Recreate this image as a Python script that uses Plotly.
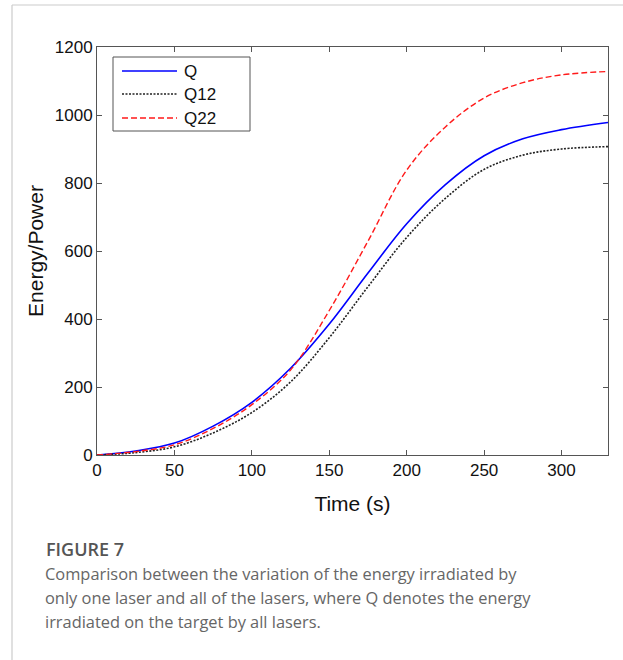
import plotly.graph_objects as go

time_s = [0, 25, 50, 75, 100, 125, 150, 175, 200, 225, 250, 275, 300, 330]
q_all = [0, 12, 35, 85, 155, 255, 385, 535, 680, 795, 880, 930, 957, 978]
q12 = [0, 7, 24, 65, 125, 215, 345, 495, 640, 755, 840, 882, 900, 907]
q22 = [0, 10, 30, 78, 148, 250, 425, 629, 838, 965, 1050, 1095, 1118, 1128]

series_names = ["Q", "Q12", "Q22"]
x_ticks = [0, 50, 100, 150, 200, 250, 300]
y_ticks = [0, 200, 400, 600, 800, 1000, 1200]

caption_title = "FIGURE 7"
caption_lines = [
    "Comparison between the variation of the energy irradiated by",
    "only one laser and all of the lasers, where Q denotes the energy",
    "irradiated on the target by all lasers.",
]

styles = [
    dict(color="#0000ff", width=1.6, dash="solid"),
    dict(color="#222222", width=1.6, dash="2px,1.5px"),
    dict(color="#ff1a1a", width=1.4, dash="6px,3px"),
]

fig = go.Figure()
for name, vals, st in zip(series_names, [q_all, q12, q22], styles):
    fig.add_trace(go.Scatter(x=time_s, y=vals, name=name, mode="lines",
                             showlegend=False, hoverinfo="skip",
                             line=dict(color=st["color"], width=st["width"],
                                       dash=st["dash"], shape="spline")))

L, R, T, B = 97, 15, 47, 205
W, H = 623, 660
pw, ph = W - L - R, H - T - B

def px(xp):
    return (xp - L) / pw

def py(yp):
    return (H - B - yp) / ph

FONT = "Liberation Sans, Arial"
axis_common = dict(showgrid=False, zeroline=False, showline=True, linecolor="#555555",
                   linewidth=1, mirror="ticks", ticks="inside", ticklen=5,
                   tickcolor="#555555",
                   tickfont=dict(family=FONT, size=17, color="#111111"))

fig.update_xaxes(range=[0, 330], tickvals=x_ticks,
                 title=dict(text="Time (s)", font=dict(family=FONT, size=21, color="#111111"),
                            standoff=16),
                 **axis_common)
fig.update_yaxes(range=[0, 1200], tickvals=y_ticks,
                 title=dict(text="Energy/Power", font=dict(family=FONT, size=21, color="#111111"),
                            standoff=5),
                 **axis_common)

annotations = [dict(text=caption_title, xref="paper", yref="paper", x=px(44), y=py(549),
                    xanchor="left", yanchor="middle", showarrow=False,
                    font=dict(family="Open Sans", size=18, color="#555555", weight=600))]
for i, line in enumerate(caption_lines):
    annotations.append(dict(text=line, xref="paper", yref="paper", x=px(43), y=py(573 + 24 * i),
                            xanchor="left", yanchor="middle", showarrow=False,
                            font=dict(family="Open Sans", size=16.4, color="#666666")))

shapes = [
    dict(type="line", xref="paper", yref="paper", x0=px(12), x1=px(12), y0=py(5), y1=py(662),
         line=dict(color="#cccccc", width=1.2)),
    dict(type="line", xref="paper", yref="paper", x0=px(12), x1=px(625), y0=py(5), y1=py(5),
         line=dict(color="#cccccc", width=1.2)),
    dict(type="rect", xref="paper", yref="paper", x0=px(113), x1=px(250), y0=py(57), y1=py(131),
         line=dict(color="#555555", width=1), fillcolor="white", layer="below"),
]

legend_rows = [71, 94, 118]
for name, st, yrow in zip(series_names, styles, legend_rows):
    shapes.append(dict(type="line", xref="paper", yref="paper", x0=px(122), x1=px(177),
                       y0=py(yrow), y1=py(yrow),
                       line=dict(color=st["color"], width=st["width"], dash=st["dash"])))
    annotations.append(dict(text=name, xref="paper", yref="paper", x=px(182), y=py(yrow),
                            xanchor="left", yanchor="middle", showarrow=False,
                            font=dict(family=FONT, size=17, color="#111111")))

fig.update_layout(
    width=W, height=H, margin=dict(l=L, r=R, t=T, b=B),
    paper_bgcolor="white", plot_bgcolor="white",
    showlegend=False, hovermode=False,
    annotations=annotations, shapes=shapes,
)

fig.write_html("out.html", config={"displayModeBar": False, "staticPlot": True},
               post_script="document.body.style.margin='0';document.body.style.overflow='hidden';")
